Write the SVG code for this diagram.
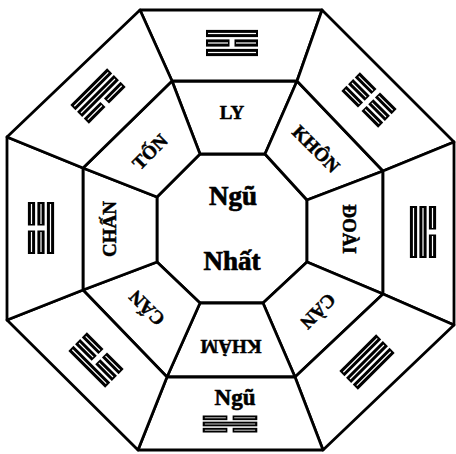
<svg xmlns="http://www.w3.org/2000/svg" xmlns:xlink="http://www.w3.org/1999/xlink" width="456" height="454" viewBox="0 0 456 454">
<style>
.sec{fill:#fff;stroke:#000;stroke-width:2.8;stroke-linejoin:round}
.lbl{font-family:"Liberation Serif","Times New Roman",serif;font-weight:bold;font-size:19px;fill:#000;stroke:#000;stroke-width:0.5;text-anchor:middle}
.big{font-family:"Liberation Serif","Times New Roman",serif;font-weight:bold;font-size:27px;fill:#000;stroke:#000;stroke-width:0.7;text-anchor:middle}
.ngu{font-family:"Liberation Serif","Times New Roman",serif;font-weight:bold;font-size:23px;fill:#000;stroke:#000;stroke-width:0.6;text-anchor:middle}
</style>
<defs>
<g id="yS"><rect x="-26" y="-3.6" width="52" height="7.2" fill="#000"/><rect x="-24" y="-0.6" width="48" height="1.2" fill="#fff"/></g>
<g id="yB"><rect x="-26" y="-3.6" width="23.5" height="7.2" fill="#000"/><rect x="2.5" y="-3.6" width="23.5" height="7.2" fill="#000"/><rect x="-24" y="-0.6" width="20" height="1.2" fill="#fff"/><rect x="4" y="-0.6" width="20" height="1.2" fill="#fff"/></g>
</defs>
<rect width="456" height="454" fill="#fff"/>

<g id="center"><polygon class="sec" points="200,154 265,154 307,200 307,262 263,303 200,303 157,262 157,197"/>
<text class="big" x="233" y="205">Ngũ</text><text class="big" x="232" y="270">Nhất</text></g>

<g id="ly"><polygon class="sec" points="172,81 297,81 265,154 200,154"/><text class="lbl" transform="translate(232,113)" y="6.3">LY</text></g>
<g id="khon"><polygon class="sec" points="297,81 383,171 307,200 265,154"/><text class="lbl" transform="translate(316,149) rotate(45)" y="6.3">KHÔN</text></g>
<g id="doai"><polygon class="sec" points="383,171 383,294 307,262 307,200"/><text class="lbl" transform="translate(349,229) rotate(90)" y="6.3">ĐOÀI</text></g>
<g id="can-se"><polygon class="sec" points="383,294 295,377 263,303 307,262"/><text class="lbl" transform="translate(318,311) rotate(135)" y="6.3">CÀN</text></g>
<g id="kham"><polygon class="sec" points="295,377 167,377 200,303 263,303"/><text class="lbl" transform="translate(231,346) rotate(180)" y="6.3">KHẢM</text></g>
<g id="can-sw"><polygon class="sec" points="167,377 83,290 157,262 200,303"/><text class="lbl" transform="translate(147,308) rotate(225)" y="6.3">CẤN</text></g>
<g id="chan"><polygon class="sec" points="83,290 83,168 157,197 157,262"/><text class="lbl" transform="translate(110,229) rotate(270)" y="6.3">CHẤN</text></g>
<g id="ton"><polygon class="sec" points="83,168 172,81 200,154 157,197"/><text class="lbl" transform="translate(150,152) rotate(315)" y="6.3">TỐN</text></g>

<g id="tri-n"><polygon class="sec" points="140,10 322,10 297,81 172,81"/>
<g transform="translate(232,43)"><use xlink:href="#yS" y="9.5"/><use xlink:href="#yB" y="0"/><use xlink:href="#yS" y="-9.5"/></g></g>
<g id="tri-ne"><polygon class="sec" points="322,10 454,142 383,171 297,81"/>
<g transform="translate(369,100) rotate(45)"><use xlink:href="#yB" y="9.5"/><use xlink:href="#yB" y="0"/><use xlink:href="#yB" y="-9.5"/></g></g>
<g id="tri-e"><polygon class="sec" points="454,142 454,325 383,294 383,171"/>
<g transform="translate(423,232) rotate(90)"><use xlink:href="#yS" y="9.5"/><use xlink:href="#yS" y="0"/><use xlink:href="#yB" y="-9.5"/></g></g>
<g id="tri-se"><polygon class="sec" points="454,325 323,450 295,377 383,294"/>
<g transform="translate(367,362) rotate(135)"><use xlink:href="#yS" y="9.5"/><use xlink:href="#yS" y="0"/><use xlink:href="#yS" y="-9.5"/></g></g>
<g id="tri-s"><polygon class="sec" points="323,450 138,450 167,377 295,377"/>
<text class="ngu" x="235" y="405">Ngũ</text>
<g transform="translate(230,424) rotate(180) scale(1.05,0.65)"><use xlink:href="#yB" y="9.5"/><use xlink:href="#yS" y="0"/><use xlink:href="#yB" y="-9.5"/></g></g>
<g id="tri-sw"><polygon class="sec" points="138,450 7,320 83,290 167,377"/>
<g transform="translate(96,360) rotate(225)"><use xlink:href="#yB" y="9.5"/><use xlink:href="#yB" y="0"/><use xlink:href="#yS" y="-9.5"/></g></g>
<g id="tri-w"><polygon class="sec" points="7,320 7,137 83,168 83,290"/>
<g transform="translate(41,228) rotate(270)"><use xlink:href="#yS" y="9.5"/><use xlink:href="#yB" y="0"/><use xlink:href="#yB" y="-9.5"/></g></g>
<g id="tri-nw"><polygon class="sec" points="7,137 140,10 172,81 83,168"/>
<g transform="translate(98,96) rotate(315)"><use xlink:href="#yB" y="9.5"/><use xlink:href="#yS" y="0"/><use xlink:href="#yS" y="-9.5"/></g></g>

<g id="connectors"></g>
</svg>
